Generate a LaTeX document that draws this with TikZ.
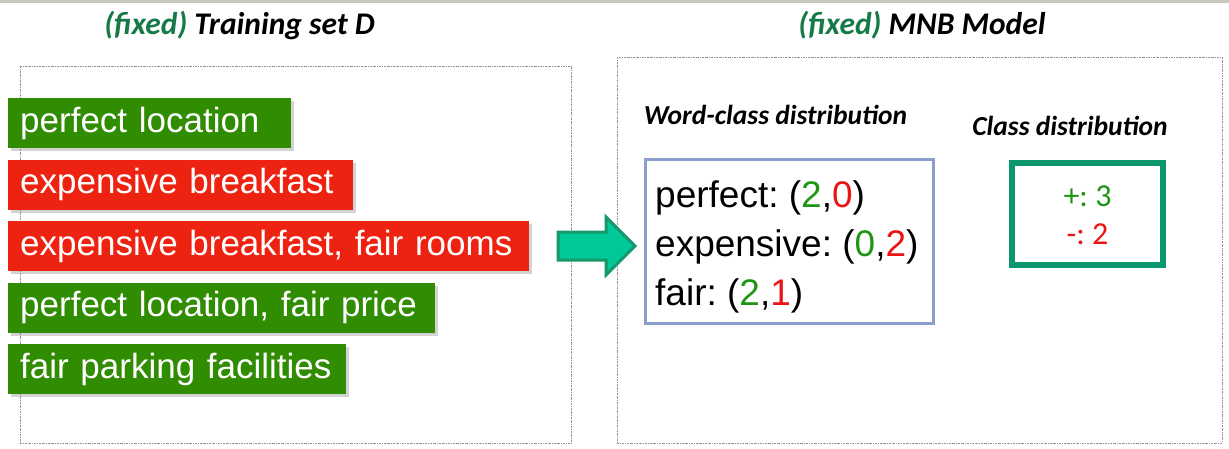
\documentclass[tikz,border=0pt]{standalone}
\usepackage{fontspec}
\setmainfont{Liberation Sans}
\newfontfamily\calfont{Carlito}
\usepackage{tikz}
\usetikzlibrary{shadows}
\definecolor{barGreen}{RGB}{48,140,0}
\definecolor{barRed}{RGB}{238,34,16}
\definecolor{fixGreen}{RGB}{22,122,72}
\definecolor{arrFill}{RGB}{0,200,150}
\definecolor{arrLine}{RGB}{20,152,108}
\definecolor{boxBlue}{RGB}{140,158,208}
\definecolor{boxTeal}{RGB}{12,150,110}
\definecolor{numGreen}{RGB}{30,150,20}
\definecolor{numRed}{RGB}{235,20,20}
\definecolor{topBand}{RGB}{200,200,192}
\frenchspacing
\begin{document}
\begin{tikzpicture}[x=1pt,y=-1pt,line cap=round,
  frame/.style={draw=gray!85,line width=.8pt,line cap=butt,dash pattern=on 2pt off 1pt on .6pt off 1pt},
  heading/.style={font=\calfont\bfseries\itshape\fontsize{31.5}{36}\selectfont},
  subhead/.style={font=\calfont\bfseries\itshape\fontsize{27.5}{32}\selectfont},
  review/.style={anchor=west,text=white,minimum height=50pt,inner xsep=12pt,inner ysep=0pt,
    align=left,font=\fontsize{35}{40}\selectfont,
    drop shadow={shadow xshift=3pt,shadow yshift=-3pt,opacity=.35}}]
  \useasboundingbox (0,0) rectangle (1229,448);
  \fill[topBand] (0,0) rectangle (1229,3);
  % Frames round the two halves.
  \draw[frame] (20,66) rectangle (571,443);
  \draw[frame] (617,57) rectangle (1222,443);
  \node[heading] (tset) at (239.5,25) {\textcolor{fixGreen}{(fixed)} Training set D};
  \node[heading] (mnb) at (922,25) {\textcolor{fixGreen}{(fixed)} MNB Model};
  % The labelled reviews.
  \foreach \i/\w/\c/\t in {0/283/barGreen/{perfect location},
    1/345/barRed/{expensive breakfast},
    2/521/barRed/{expensive breakfast, fair rooms},
    3/427/barGreen/{perfect location, fair price},
    4/338/barGreen/{fair parking facilities}}{
    \pgfmathsetmacro\tw{\w-24}
    \node[review,fill=\c,text width=\tw pt] (r\i) at (8,{123+61.5*\i}) {\t};
  }
  \draw[line width=3pt,draw=arrLine,fill=arrFill,line join=miter]
    (558,232)--(606,232)--(606,217)--(635,246)--(606,275)--(606,260)--(558,260)--cycle;
  \node[subhead] (wcd) at (775.5,115) {Word-class distribution};
  \node[subhead] (cd) at (1070,126) {Class distribution};
  % Counts per word, then per class.
  \node[draw=boxBlue,line width=3.5pt,minimum width=288pt,minimum height=164pt] (wc) at (789.5,241.5) {};
  \node[anchor=west,align=left,inner sep=0pt,font=\fontsize{37}{49}\selectfont]
    (wcl) at (655,247)
    {perfect: (\textcolor{numGreen}{2},\textcolor{numRed}{0})\\
     expensive: (\textcolor{numGreen}{0},\textcolor{numRed}{2})\\
     fair: (\textcolor{numGreen}{2},\textcolor{numRed}{1})};
  \node[draw=boxTeal,line width=6pt,minimum width=151pt,minimum height=102pt] (cls) at (1087.5,214) {};
  \node[align=center,inner sep=0pt,font=\calfont\fontsize{32}{38}\selectfont]
    (clsl) at (1087.5,215.5)
    {\textcolor{numGreen}{+: 3}\\ \textcolor{numRed}{-: 2}};
\end{tikzpicture}
\end{document}
